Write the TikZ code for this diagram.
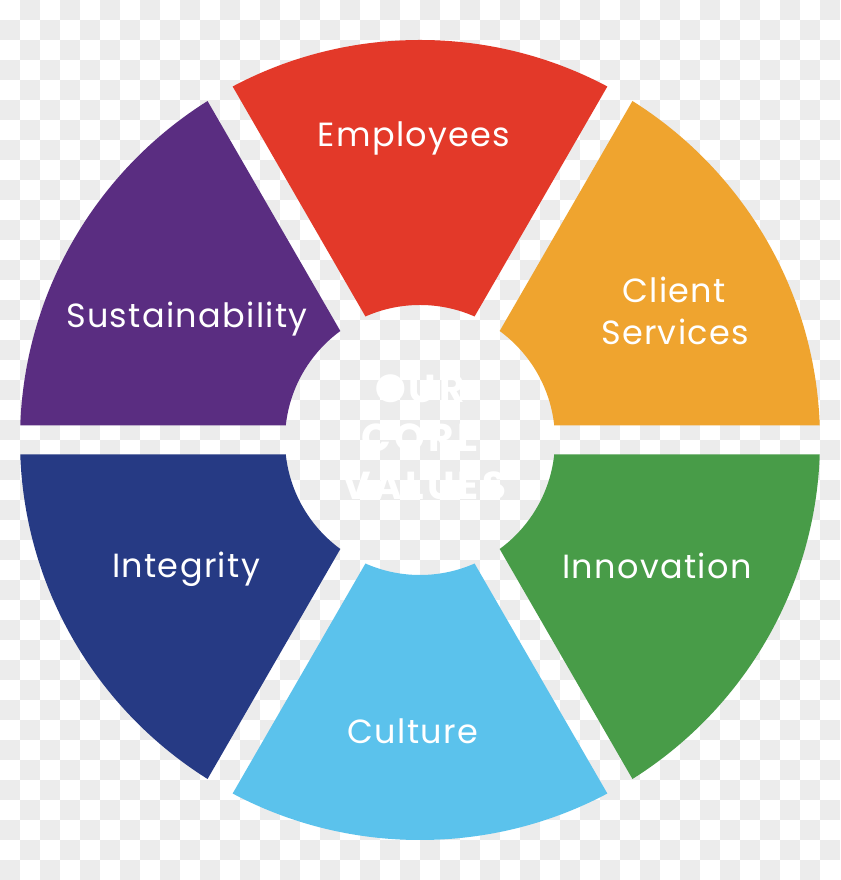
\documentclass[tikz,border=0pt]{standalone}
\usepackage{fontspec}
\setmainfont{Poppins}
\usetikzlibrary{calc}
\definecolor{checkgray}{RGB}{236,236,236}
\definecolor{cred}{RGB}{227,57,41}
\definecolor{corange}{RGB}{239,164,47}
\definecolor{cpurple}{RGB}{90,45,129}
\definecolor{cblue}{RGB}{38,58,132}
\definecolor{cgreen}{RGB}{72,156,72}
\definecolor{clight}{RGB}{91,194,236}
\newcommand\wheelseg[2]{%
  \pgfmathsetmacro\bis{#1+30}%
  \pgfmathsetmacro\endang{#1+60}%
  \begin{scope}
    \coordinate (A) at ($(C)+(\bis:29)$);
    \clip (A) -- ($(A)+(#1:900)$) -- ($(A)+(\bis:1200)$) -- ($(A)+(\endang:900)$) -- cycle;
    \fill[#2, even odd rule] (C) circle (400) (C) circle (135);
  \end{scope}}
\begin{document}
\begin{tikzpicture}[x=1pt,y=1pt,
  lbl/.style={text=white, font=\fontsize{33.5}{40}\selectfont\addfontfeature{LetterSpace=4}, anchor=base, inner sep=0pt},
  ctr/.style={text=white, font=\bfseries\fontsize{39}{44}\selectfont\addfontfeature{LetterSpace=8}, anchor=base, inner sep=0pt}]
\useasboundingbox (0,0) rectangle (840,880);
\fill[white] (0,0) rectangle (840,880);
\foreach \j in {0,...,43}{
  \pgfmathtruncatemacro\off{1-mod(\j,2)}
  \foreach \k in {0,...,20}{
    \fill[checkgray] ({40*\k+20*\off},{860-20*\j}) rectangle ++(20,20);
  }
}
\coordinate (C) at (420,440);
\wheelseg{0}{corange}
\wheelseg{60}{cred}
\wheelseg{120}{cpurple}
\wheelseg{180}{cblue}
\wheelseg{240}{clight}
\wheelseg{300}{cgreen}
\node[lbl] (emp) at (414,733) {Employees};
\node[lbl] (cli) at (674,577) {Client};
\node[lbl] (ser) at (675,535) {Services};
\node[lbl] (sus) at (187,552) {Sustainability};
\node[lbl] (int) at (186,302) {Integrity};
\node[lbl] (inn) at (657,301) {Innovation};
\node[lbl] (cul) at (413,136) {Culture};
\node[ctr] (our) at (420,477) {OUR};
\node[ctr] (core) at (420,428) {CORE};
\node[ctr] (val) at (424,380) {VALUES};
\end{tikzpicture}
\end{document}
